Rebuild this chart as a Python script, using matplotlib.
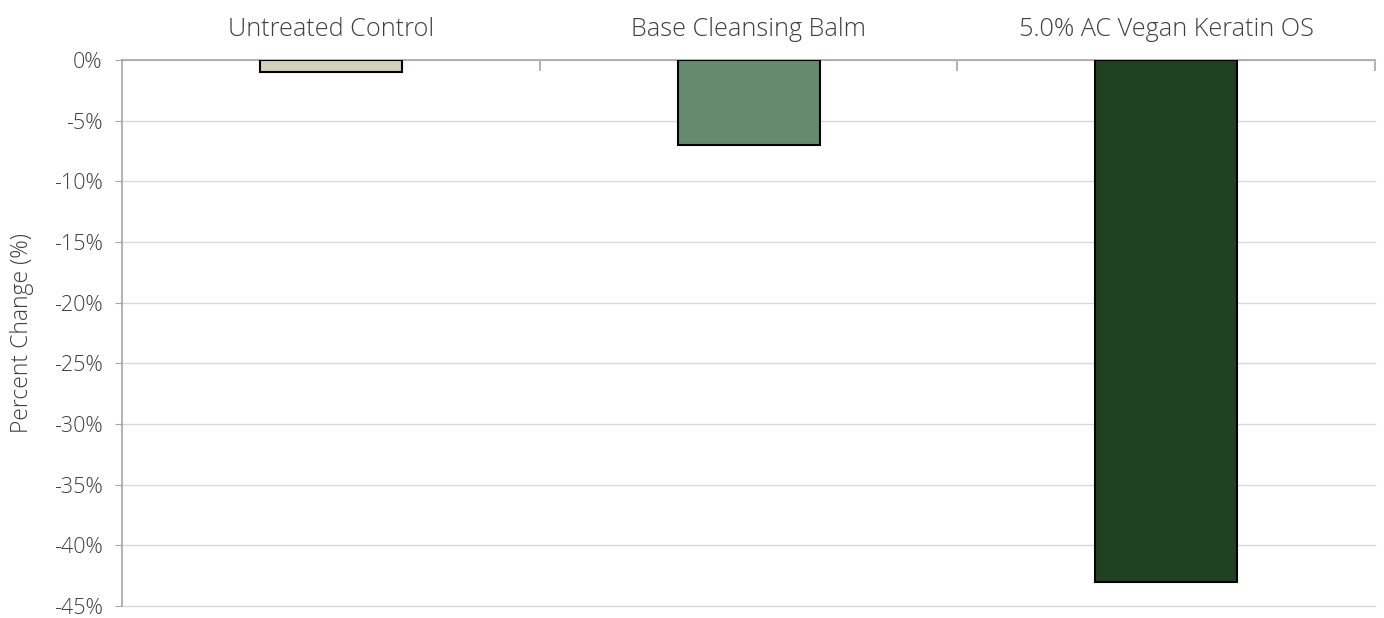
import matplotlib
matplotlib.use("Agg")
import matplotlib.pyplot as plt
import numpy as np
from matplotlib.ticker import FuncFormatter, FixedLocator

categories = ["Untreated Control", "Base Cleansing Balm", "5.0% AC Vegan Keratin OS"]
values = [-1.0, -7.0, -43.0]
colors = ["#d2d1bb", "#668a6d", "#1f4121"]
yticks = list(range(0, -50, -5))

plt.rcParams['font.family'] = ['Open Sans', 'DejaVu Sans']
plt.rcParams['font.weight'] = 'light'
txt = "#404040"

fig = plt.figure(figsize=(13.84, 6.18), dpi=100)
ax = fig.add_axes([0.0882, 0.0194, 0.9053, 0.8835])

x = np.arange(len(categories))
ax.bar(x, values, width=0.34, color=colors, edgecolor="black", linewidth=1.5, zorder=3)

ax.set_xlim(-0.5, len(categories) - 0.5)
ax.set_ylim(-45, 0)
ax.set_yticks(yticks)
ax.yaxis.set_major_formatter(FuncFormatter(lambda v, p: f"{v:.0f}%"))
ax.grid(axis="y", color="#d9d9d9", linewidth=1, zorder=0)
for gl in ax.get_ygridlines():
    gl.set_clip_on(False)
ax.set_axisbelow(True)

for s in ["right", "bottom"]:
    ax.spines[s].set_visible(False)
ax.spines["left"].set_color("#a6a6a6")
ax.spines["top"].set_color("#a6a6a6")
ax.spines["left"].set_linewidth(1.2)
ax.spines["top"].set_linewidth(1.2)

ax.tick_params(axis="y", direction="out", length=5, color="#a6a6a6", labelsize=15.5, labelcolor=txt, pad=9)

ax.xaxis.tick_top()
ax.set_xticks(x)
ax.set_xticklabels(categories)
ax.tick_params(axis="x", which="major", length=0, labelsize=18.2, labelcolor=txt, pad=13)
ax.xaxis.set_minor_locator(FixedLocator(np.arange(0.5, len(categories), 1.0)))
ax.tick_params(axis="x", which="minor", direction="in", length=8, color="#a6a6a6", top=True, bottom=False, width=1.2)

ax.set_ylabel("Percent Change (%)", fontsize=16.5, color=txt, fontweight="light")
ax.yaxis.set_label_coords(-0.0705, 0.5)

fig.savefig("out.png", dpi=100, facecolor="white")
